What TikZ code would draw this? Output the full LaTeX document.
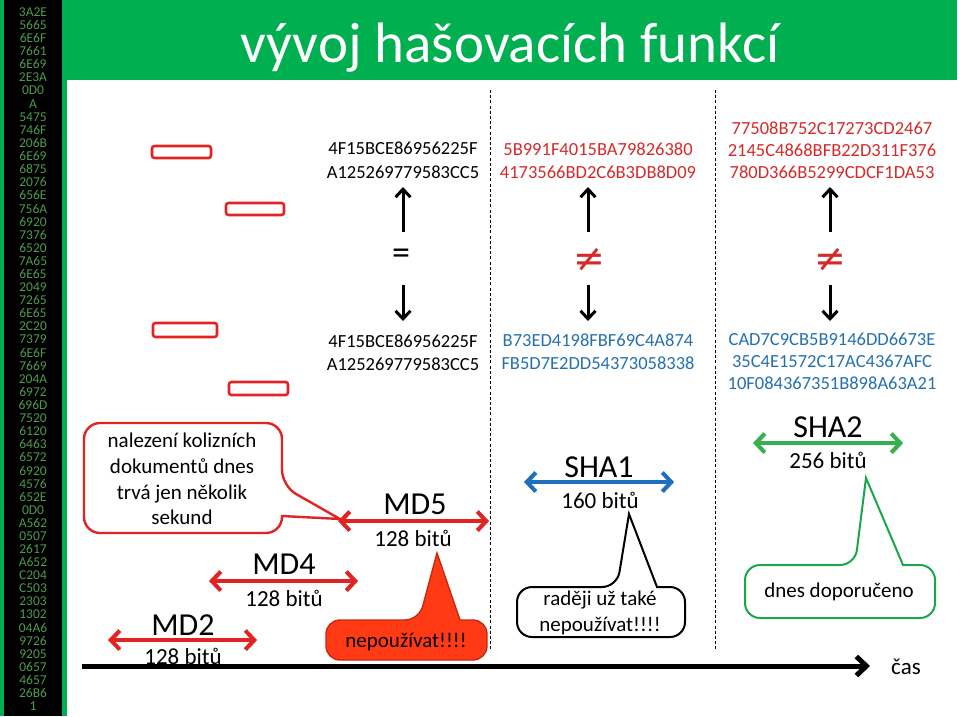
\documentclass[tikz,border=0pt]{standalone}
\usepackage{fontspec}
\setmainfont{Carlito}
\newfontfamily\dejavu{DejaVu Sans}
\usetikzlibrary{arrows.meta}
\definecolor{titlegreen}{HTML}{00B050}
\definecolor{hexgreen}{HTML}{4E9A4E}
\definecolor{hashred}{HTML}{D42A2A}
\definecolor{hashblue}{HTML}{2470B0}
\definecolor{arrred}{HTML}{E32222}
\definecolor{arrblue}{HTML}{1F6FBF}
\definecolor{arrgreen}{HTML}{34B04E}
\definecolor{callgreen}{HTML}{1AA64A}
\definecolor{warnfill}{HTML}{FF3A14}
\definecolor{warndraw}{HTML}{C8280E}
\begin{document}
\begin{tikzpicture}[x=1pt,y=-1pt,
  hexcol/.style={text=hexgreen,font=\fontsize{13.5}{15}\selectfont,inner sep=0pt},
  hash/.style={font=\fontsize{18.5}{22}\selectfont,inner sep=0pt},
  big/.style={font=\fontsize{32}{36}\selectfont,inner sep=0pt},
  bits/.style={font=\fontsize{23}{26}\selectfont,inner sep=0pt},
  ctext/.style={font=\fontsize{21}{25.7}\selectfont,inner sep=0pt,align=center},
  shad/.style={preaction={draw=black!28,transform canvas={shift={(1.6pt,-1.6pt)}}}},
  dbl/.style={shad,line width=4pt,{Straight Barb[length=9pt,width=19pt]}-{Straight Barb[length=9pt,width=19pt]}},
  vert/.style={line width=3pt,-{Straight Barb[length=8pt,width=15pt]}},
  sep/.style={line width=0.9pt,dash pattern=on 3pt off 2.2pt},
  redbox/.style={draw=arrred,line width=2.6pt,rounded corners=2.5pt},
  callR/.style={draw=arrred,line width=2.4pt,fill=white},
  callN/.style={draw=warndraw,line width=1.4pt,fill=warnfill},
  callB/.style={draw=black,line width=2pt,fill=white},
  callG/.style={draw=callgreen,line width=2pt,fill=white}]
\useasboundingbox (0,0) rectangle (960,716);
% left column and title bar
\fill[titlegreen] (0,0) rectangle (67,716);
\fill[black] (4,0) rectangle (62,716);
\fill[titlegreen] (64,0) rectangle (957,80);
\node[anchor=base,text=white,font=\fontsize{57}{60}\selectfont,inner sep=0pt] (title) at (510,62) {vývoj hašovacích funkcí};
\foreach \t [count=\i from 0] in {3A2E,5665,6E6F,7661,6E69,2E3A,0D0,A,5475,746F,206B,6E69,6875,2076,656E,756A,6920,7376,6520,7A65,6E65,2049,7265,6E65,2C20,7379,6E6F,7669,204A,6972,696D,7520,6120,6463,6572,6920,4576,652E,0D0,A562,0507,2617,A652,C204,C503,2303,1302,04A6,9726,9205,0657,4657,26B6,1}
  \node[hexcol] (hex\i) at (33,12+\i*13.1) {\t};
% red rectangles
\draw[redbox] (152,146) rectangle (211,158);
\draw[redbox] (226,203) rectangle (284,215);
\draw[redbox] (153,323) rectangle (217,337);
\draw[redbox] (229,382) rectangle (288,395);
% separators
\coordinate (s1a) at (490,90); \coordinate (s1b) at (490,650);
\coordinate (s2a) at (715,90); \coordinate (s2b) at (715,650);
\draw[sep] (s1a) -- (s1b);
\draw[sep] (s2a) -- (s2b);
% column 1
\node[hash] (c1t1) at (403,148) {4F15BCE86956225F};
\node[hash] (c1t2) at (403,172) {A125269779583CC5};
\node[hash] (c1b1) at (403,341) {4F15BCE86956225F};
\node[hash] (c1b2) at (403,364) {A125269779583CC5};
\node[font=\fontsize{36}{40}\selectfont,inner sep=0pt] (eq) at (401,257) {=};
\coordinate (c1u0) at (403,232); \coordinate (c1u1) at (403,187);
\coordinate (c1d0) at (403,285); \coordinate (c1d1) at (403,321);
\draw[vert] (c1u0) -- (c1u1);
\draw[vert] (c1d0) -- (c1d1);
% column 2
\node[hash,text=hashred] (c2t1) at (598,149) {5B991F4015BA79826380};
\node[hash,text=hashred] (c2t2) at (598,172) {4173566BD2C6B3DB8D09};
\node[hash,text=hashblue] (c2b1) at (598,340) {B73ED4198FBF69C4A874};
\node[hash,text=hashblue] (c2b2) at (598,363) {FB5D7E2DD54373058338};
\node[text=hashred,font=\dejavu\fontsize{38}{40}\selectfont,inner sep=0pt] (ne1) at (589,260) {≠};
\coordinate (c2u0) at (588,232); \coordinate (c2u1) at (588,187);
\coordinate (c2d0) at (588,285); \coordinate (c2d1) at (588,321);
\draw[vert] (c2u0) -- (c2u1);
\draw[vert] (c2d0) -- (c2d1);
% column 3
\node[hash,text=hashred] (c3t1) at (832,128) {77508B752C17273CD2467};
\node[hash,text=hashred] (c3t2) at (832,150) {2145C4868BFB22D311F376};
\node[hash,text=hashred] (c3t3) at (832,172) {780D366B5299CDCF1DA53};
\node[hash,text=hashblue] (c3b1) at (832,339) {CAD7C9CB5B9146DD6673E};
\node[hash,text=hashblue] (c3b2) at (832,361) {35C4E1572C17AC4367AFC};
\node[hash,text=hashblue] (c3b3) at (832,383) {10F084367351B898A63A21};
\node[text=hashred,font=\dejavu\fontsize{38}{40}\selectfont,inner sep=0pt] (ne2) at (830,260) {≠};
\coordinate (c3u0) at (830,232); \coordinate (c3u1) at (830,187);
\coordinate (c3d0) at (830,285); \coordinate (c3d1) at (830,321);
\draw[vert] (c3u0) -- (c3u1);
\draw[vert] (c3d0) -- (c3d1);
% callouts
\draw[callR] (183,423) [rounded corners=16pt] -- (282,423) -- (282,486) [sharp corners] -- (340,519) -- (282,516) [rounded corners=16pt] -- (282,533) -- (84,533) -- (84,423) -- cycle;
\node[ctext] (coll) at (182,479) {nalezení kolizních\\dokumentů dnes\\trvá jen několik\\sekund};
\draw[callN] (406,660) [rounded corners=14pt] -- (326,660) -- (326,620) -- (419,620) [sharp corners] -- (437,553) -- (460,620) [rounded corners=14pt] -- (487,620) -- (487,660) -- cycle;
\node[ctext] (warn1) at (406,642) {nepoužívat!!!!};
\draw[callB] (600,637) [rounded corners=15pt] -- (517,637) -- (517,587) -- (617,587) [sharp corners] -- (629,514) -- (657,587) [rounded corners=15pt] -- (685,587) -- (685,637) -- cycle;
\node[ctext] (warn2) at (600,613) {raději už také\\nepoužívat!!!!};
\draw[callG] (840,618) [rounded corners=15pt] -- (745,618) -- (745,565) -- (855,565) [sharp corners] -- (866,478) -- (903,565) [rounded corners=15pt] -- (935,565) -- (935,618) -- cycle;
\node[ctext] (rec) at (839,592) {dnes doporučeno};
% algorithm arrows
\node[big] (md2) at (183,625) {MD2};
\node[bits] (md2b) at (183,656) {128 bitů};
\coordinate (md2L) at (108,640); \coordinate (md2R) at (257,640);
\draw[dbl,arrred] (md2L) -- (md2R);
\node[big] (md4) at (284,564) {MD4};
\node[bits] (md4b) at (284,598) {128 bitů};
\coordinate (md4L) at (209,581); \coordinate (md4R) at (358,581);
\draw[dbl,arrred] (md4L) -- (md4R);
\node[big] (md5) at (415,504) {MD5};
\node[bits] (md5b) at (413,538) {128 bitů};
\coordinate (md5L) at (338,521); \coordinate (md5R) at (489,521);
\draw[dbl,arrred] (md5L) -- (md5R);
\node[big] (sha1) at (599,467) {SHA1};
\node[bits] (sha1b) at (600,500) {160 bitů};
\coordinate (sha1L) at (524,482); \coordinate (sha1R) at (674,482);
\draw[dbl,arrblue] (sha1L) -- (sha1R);
\node[big] (sha2) at (828,427) {SHA2};
\node[bits] (sha2b) at (828,460) {256 bitů};
\coordinate (sha2L) at (753,443); \coordinate (sha2R) at (903,443);
\draw[dbl,arrgreen] (sha2L) -- (sha2R);
% time axis
\coordinate (ax0) at (82,666); \coordinate (ax1) at (870,666);
\draw[shad,line width=5pt,-{Straight Barb[length=10pt,width=19pt]}] (ax0) -- (ax1);
\node[bits] (cas) at (906,667) {čas};
\end{tikzpicture}
\end{document}
